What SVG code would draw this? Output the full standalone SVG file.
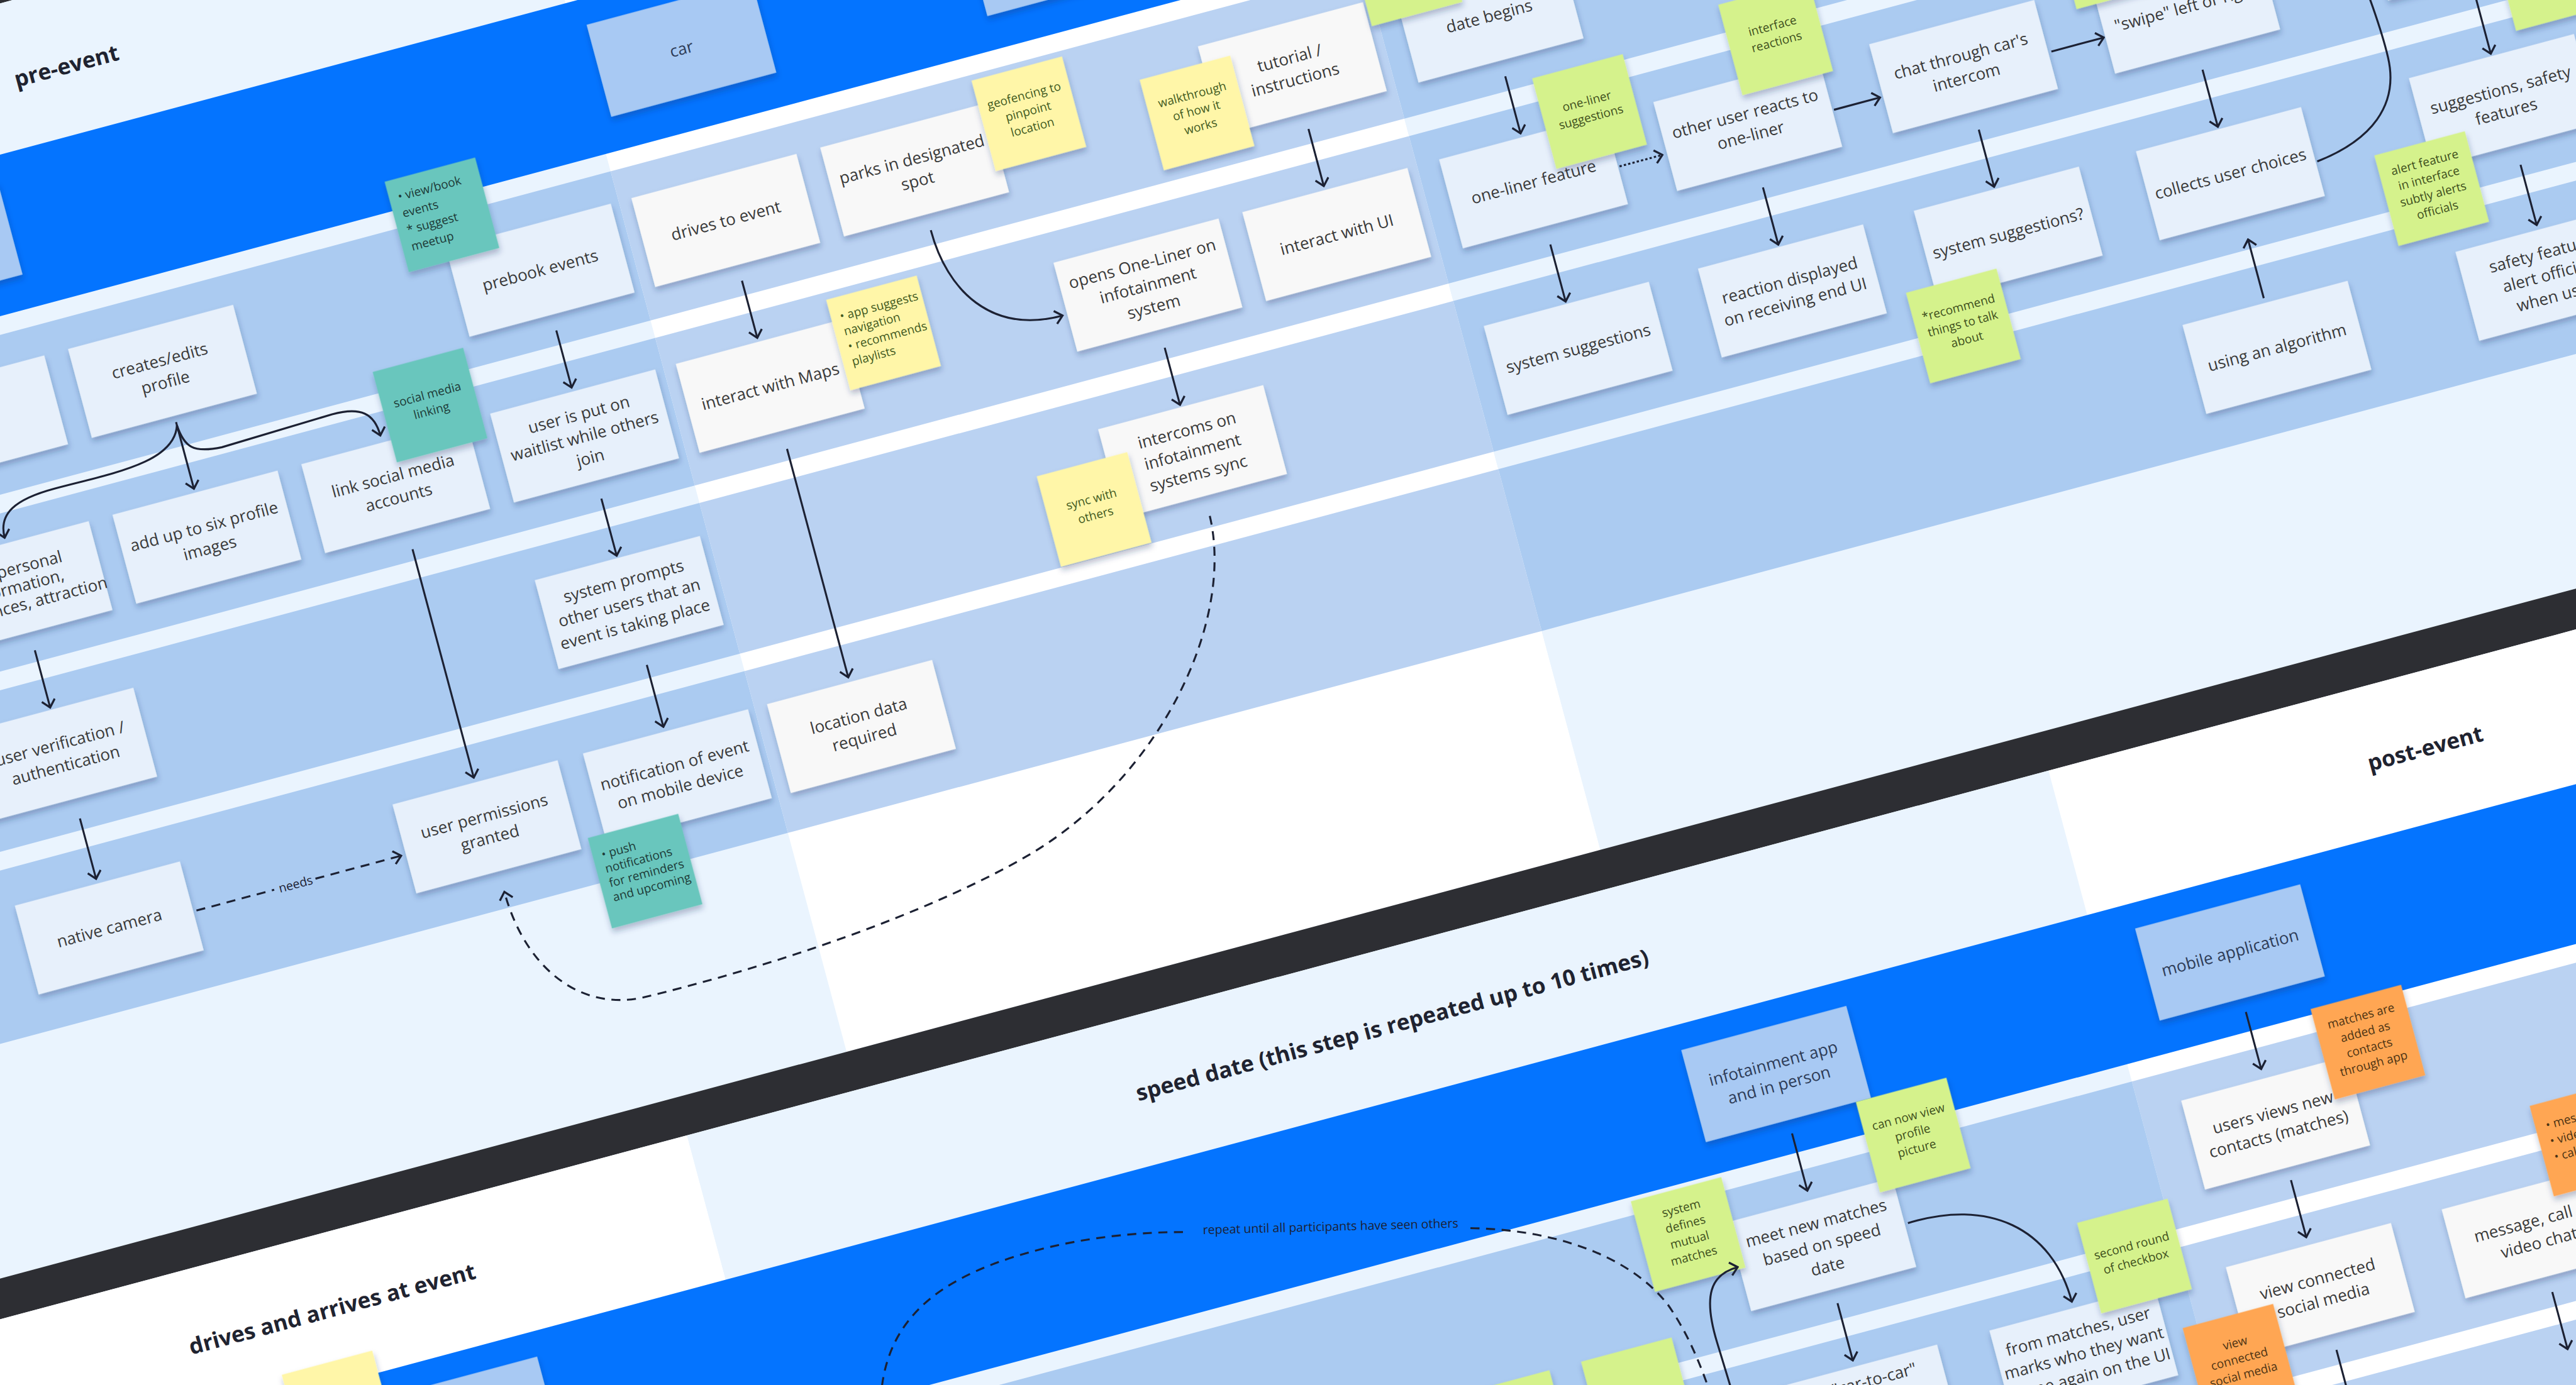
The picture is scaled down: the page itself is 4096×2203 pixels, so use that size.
<svg xmlns="http://www.w3.org/2000/svg" width="4096" height="2203" viewBox="0 0 4096 2203">
<defs>
<style>
text{font-family:"Open Sans","Liberation Sans",Arial,sans-serif}
.card rect{filter:url(#sh)}
.cw rect{fill:#f8f8f8}
.cb rect{fill:#e7f0fb}
.lb rect{fill:#a8c9f3}
.card text{font-size:10px;fill:#3a3a3a;text-anchor:middle}
.lb text{fill:#2e3c57}
.st rect{filter:url(#sh)}
.st text{font-size:7.3px;text-anchor:middle}
.st.left text{text-anchor:start}
.teal rect{fill:#69c6bd}
.teal text{fill:#1d3a37}
.yel rect{fill:#fff6a8}
.yel text{fill:#425a1e}
.grn rect{fill:#d5f28c}
.grn text{fill:#3e4f1c}
.org rect{fill:#ffa652}
.org text{fill:#4d3414}
.hdr{font-size:13.5px;font-weight:700;fill:#1f2330}
.ln{fill:none;stroke:#1c2133;stroke-width:1.2}
.dash{stroke-dasharray:5.5 4}
.dot{stroke-dasharray:1.4 1.3}
.lab{font-size:7.5px;fill:#1c2133}
</style>
<filter id="sh" x="-15%" y="-15%" width="130%" height="150%">
<feDropShadow dx="0" dy="2.4" stdDeviation="1.9" flood-color="#14305e" flood-opacity="0.3"/>
</filter>
<marker id="ah" viewBox="0 0 10 10" refX="9" refY="5" markerWidth="9" markerHeight="9" markerUnits="userSpaceOnUse" orient="auto">
<path d="M4,0.5 L9,5 L4,9.5" fill="none" stroke="#1c2133" stroke-width="1.4"/>
</marker>
</defs>
<rect width="4096" height="2203" fill="#eaf4fe"/>
<g transform="scale(2.612245) rotate(-15)">

<g id="board-top">
<rect x="-400" y="-40" width="2400" height="42" fill="#2d2e33"/>
<rect x="-400" y="2" width="732" height="750" fill="#eaf4fe"/>
<rect x="332" y="2" width="475" height="750" fill="#ffffff"/>
<rect x="807" y="2" width="1193" height="750" fill="#eaf4fe"/>
<rect x="-400" y="91" width="2400" height="95" fill="#0474ff"/>
<g fill="#abcbf1">
<rect x="-400" y="197" width="732" height="94"/>
<rect x="-400" y="302" width="732" height="93"/>
<rect x="-400" y="406" width="732" height="95"/>
<rect x="-400" y="512" width="732" height="102"/>
<rect x="807" y="197" width="1193" height="94"/>
<rect x="807" y="302" width="1193" height="93"/>
<rect x="807" y="406" width="1193" height="95"/>
<rect x="807" y="512" width="1193" height="102"/>
</g>
<g fill="#bad2f2">
<rect x="332" y="197" width="475" height="94"/>
<rect x="332" y="302" width="475" height="93"/>
<rect x="332" y="406" width="475" height="95"/>
<rect x="332" y="512" width="475" height="102"/>
</g>
<rect x="-400" y="752" width="2400" height="24" fill="#2d2e33"/>
</g>

<g id="board-bottom">
<rect x="-400" y="776" width="625" height="720" fill="#ffffff"/>
<rect x="225" y="776" width="858" height="720" fill="#eaf4fe"/>
<rect x="1083" y="776" width="917" height="720" fill="#ffffff"/>
<rect x="-400" y="867" width="2400" height="94" fill="#0474ff"/>
<g fill="#bad2f2">
<rect x="-400" y="972" width="625" height="94"/>
<rect x="-400" y="1077" width="625" height="94"/>
<rect x="-400" y="1182" width="625" height="94"/>
<rect x="-400" y="1287" width="625" height="94"/>
<rect x="1083" y="972" width="917" height="94"/>
<rect x="1083" y="1077" width="917" height="94"/>
<rect x="1083" y="1182" width="917" height="94"/>
<rect x="1083" y="1287" width="917" height="94"/>
</g>
<g fill="#abcbf1">
<rect x="225" y="972" width="858" height="94"/>
<rect x="225" y="1077" width="858" height="94"/>
<rect x="225" y="1182" width="858" height="94"/>
<rect x="225" y="1287" width="858" height="94"/>
</g>
</g>

<g id="headers">
<text class="hdr" x="-4" y="54">pre-event</text>
<text class="hdr" x="-11" y="827" text-anchor="middle">drives and arrives at event</text>
<text class="hdr" x="657" y="827" text-anchor="middle">speed date (this step is repeated up to 10 times)</text>
<text class="hdr" x="1308" y="827" text-anchor="middle">post-event</text>
</g>

<g id="n-box-a" class="card lb" transform="translate(-82,136)"><rect x="-52" y="-29" width="104" height="58"/></g>
<g id="n-car" class="card lb" transform="translate(393,136)"><rect x="-52" y="-29" width="104" height="58"/><text><tspan x="0" y="3.6">car</tspan></text></g>
<g id="n-box-b" class="card lb" transform="translate(630,136)"><rect x="-52" y="-29" width="104" height="58"/></g>
<g id="n-box-d" class="card lb" transform="translate(50,911.5)"><rect x="-52" y="-29" width="104" height="58"/></g>
<g id="n-infotain" class="card lb" transform="translate(875,911.5)"><rect x="-52" y="-29" width="104" height="58"/><text><tspan x="0" y="-3.2">infotainment app</tspan><tspan x="0" y="10.4">and in person</tspan></text></g>
<g id="n-mobile" class="card lb" transform="translate(1161,911.5)"><rect x="-52" y="-29" width="104" height="58"/><text><tspan x="0" y="3.6">mobile application</tspan></text></g>

<g id="n-a0" class="card cb" transform="translate(-82,244)"><rect x="-52" y="-28" width="104" height="56"/></g>
<g id="n-creates" class="card cb" transform="translate(37,244)"><rect x="-52" y="-28" width="104" height="56"/><text><tspan x="0" y="-3.2">creates/edits</tspan><tspan x="0" y="10.4">profile</tspan></text></g>
<g id="n-prebook" class="card cb" transform="translate(275,244)"><rect x="-52" y="-28" width="104" height="56"/><text><tspan x="0" y="3.6">prebook events</tspan></text></g>
<g id="n-personal" class="card cb" transform="translate(-82,348.5)"><rect x="-52" y="-28" width="104" height="56"/><text font-size="8.2"><tspan x="0" y="-8.3">add personal</tspan><tspan x="0" y="2.9">information,</tspan><tspan x="0" y="14.1">preferences, attraction</tspan></text></g>
<g id="n-addimg" class="card cb" transform="translate(37,348.5)"><rect x="-52" y="-28" width="104" height="56"/><text><tspan x="0" y="-3.2">add up to six profile</tspan><tspan x="0" y="10.4">images</tspan></text></g>
<g id="n-linksoc" class="card cb" transform="translate(156,348.5)"><rect x="-52" y="-28" width="104" height="56"/><text><tspan x="0" y="-3.2">link social media</tspan><tspan x="0" y="10.4">accounts</tspan></text></g>
<g id="n-waitlist" class="card cb" transform="translate(275,348.5)"><rect x="-52" y="-28" width="104" height="56"/><text><tspan x="0" y="-10">user is put on</tspan><tspan x="0" y="3.6">waitlist while others</tspan><tspan x="0" y="17.2">join</tspan></text></g>
<g id="n-verify" class="card cb" transform="translate(-82,453.5)"><rect x="-52" y="-28" width="104" height="56"/><text><tspan x="0" y="-3.2">user verification /</tspan><tspan x="0" y="10.4">authentication</tspan></text></g>
<g id="n-prompts" class="card cb" transform="translate(275,453.5)"><rect x="-52" y="-28" width="104" height="56"/><text><tspan x="0" y="-10">system prompts</tspan><tspan x="0" y="3.6">other users that an</tspan><tspan x="0" y="17.2">event is taking place</tspan></text></g>
<g id="n-camera" class="card cb" transform="translate(-82,563)"><rect x="-52" y="-28" width="104" height="56"/><text><tspan x="0" y="3.6">native camera</tspan></text></g>
<g id="n-perms" class="card cb" transform="translate(156,563)"><rect x="-52" y="-28" width="104" height="56"/><text><tspan x="0" y="-3.2">user permissions</tspan><tspan x="0" y="10.4">granted</tspan></text></g>
<g id="n-notif" class="card cb" transform="translate(276,563)"><rect x="-52" y="-28" width="104" height="56"/><text><tspan x="0" y="-3.2">notification of event</tspan><tspan x="0" y="10.4">on mobile device</tspan></text></g>

<g id="n-drives" class="card cw" transform="translate(392,244)"><rect x="-52" y="-28" width="104" height="56"/><text><tspan x="0" y="3.6">drives to event</tspan></text></g>
<g id="n-parks" class="card cw" transform="translate(511,244)"><rect x="-52" y="-28" width="104" height="56"/><text><tspan x="0" y="-3.2">parks in designated</tspan><tspan x="0" y="10.4">spot</tspan></text></g>
<g id="n-tutorial" class="card cw" transform="translate(749,244)"><rect x="-52" y="-28" width="104" height="56"/><text><tspan x="0" y="-3.2">tutorial /</tspan><tspan x="0" y="10.4">instructions</tspan></text></g>
<g id="n-maps" class="card cw" transform="translate(392,348.5)"><rect x="-52" y="-28" width="104" height="56"/><text><tspan x="0" y="3.6">interact with Maps</tspan></text></g>
<g id="n-opens" class="card cw" transform="translate(630,348.5)"><rect x="-52" y="-28" width="104" height="56"/><text><tspan x="0" y="-10">opens One-Liner on</tspan><tspan x="0" y="3.6">infotainment</tspan><tspan x="0" y="17.2">system</tspan></text></g>
<g id="n-ui" class="card cw" transform="translate(749,348.5)"><rect x="-52" y="-28" width="104" height="56"/><text><tspan x="0" y="3.6">interact with UI</tspan></text></g>
<g id="n-intercoms" class="card cw" transform="translate(630,453.5)"><rect x="-52" y="-28" width="104" height="56"/><text><tspan x="0" y="-10">intercoms on</tspan><tspan x="0" y="3.6">infotainment</tspan><tspan x="0" y="17.2">systems sync</tspan></text></g>
<g id="n-location" class="card cw" transform="translate(392,563)"><rect x="-52" y="-28" width="104" height="56"/><text><tspan x="0" y="-3.2">location data</tspan><tspan x="0" y="10.4">required</tspan></text></g>

<g id="n-date" class="card cb" transform="translate(873,244)"><rect x="-52" y="-28" width="104" height="56"/><text><tspan x="0" y="3.6">date begins</tspan></text></g>
<g id="n-oneliner" class="card cb" transform="translate(873,348.5)"><rect x="-52" y="-28" width="104" height="56"/><text><tspan x="0" y="3.6">one-liner feature</tspan></text></g>
<g id="n-reacts" class="card cb" transform="translate(1008,348.5)"><rect x="-52" y="-28" width="104" height="56"/><text><tspan x="0" y="-3.2">other user reacts to</tspan><tspan x="0" y="10.4">one-liner</tspan></text></g>
<g id="n-chat" class="card cb" transform="translate(1144,348.5)"><rect x="-52" y="-28" width="104" height="56"/><text><tspan x="0" y="-3.2">chat through car's</tspan><tspan x="0" y="10.4">intercom</tspan></text></g>
<g id="n-swipe" class="card cb" transform="translate(1284,348.5)"><rect x="-52" y="-28" width="104" height="56"/><text><tspan x="0" y="3.6">&quot;swipe&quot; left or right</tspan></text></g>
<g id="n-ctop" class="card cb" transform="translate(1456,348.5)"><rect x="-52" y="-28" width="104" height="56"/></g>
<g id="n-syssug" class="card cb" transform="translate(873,453.5)"><rect x="-52" y="-28" width="104" height="56"/><text><tspan x="0" y="3.6">system suggestions</tspan></text></g>
<g id="n-reaction" class="card cb" transform="translate(1008,453.5)"><rect x="-52" y="-28" width="104" height="56"/><text><tspan x="0" y="-3.2">reaction displayed</tspan><tspan x="0" y="10.4">on receiving end UI</tspan></text></g>
<g id="n-syssugq" class="card cb" transform="translate(1144,453.5)"><rect x="-52" y="-28" width="104" height="56"/><text><tspan x="0" y="3.6">system suggestions?</tspan></text></g>
<g id="n-collects" class="card cb" transform="translate(1284,453.5)"><rect x="-52" y="-28" width="104" height="56"/><text><tspan x="0" y="3.6">collects user choices</tspan></text></g>
<g id="n-safetysug" class="card cb" transform="translate(1456,453.5)"><rect x="-52" y="-28" width="104" height="56"/><text><tspan x="0" y="-3.2">suggestions, safety</tspan><tspan x="0" y="10.4">features</tspan></text></g>
<g id="n-algo" class="card cb" transform="translate(1284,563)"><rect x="-52" y="-28" width="104" height="56"/><text><tspan x="0" y="3.6">using an algorithm</tspan></text></g>
<g id="n-safety" class="card cb" transform="translate(1456,563)"><rect x="-52" y="-28" width="104" height="56"/><text><tspan x="0" y="-10">safety features</tspan><tspan x="0" y="3.6">alert officials</tspan><tspan x="0" y="17.2">when user</tspan></text></g>

<g id="n-meet" class="card cb" transform="translate(875,1019)"><rect x="-52" y="-28" width="104" height="56"/><text><tspan x="0" y="-10">meet new matches</tspan><tspan x="0" y="3.6">based on speed</tspan><tspan x="0" y="17.2">date</tspan></text></g>
<g id="n-users" class="card cw" transform="translate(1161,1019)"><rect x="-52" y="-28" width="104" height="56"/><text><tspan x="0" y="-3.2">users views new</tspan><tspan x="0" y="10.4">contacts (matches)</tspan></text></g>
<g id="n-cartocar" class="card cb" transform="translate(875,1124)"><rect x="-52" y="-28" width="104" height="56"/><text><tspan x="36" y="-14" text-anchor="end">&quot;car-to-car&quot;</tspan></text></g>
<g id="n-frommatch" class="card cb" transform="translate(1012,1124)"><rect x="-52" y="-28" width="104" height="56"/><text><tspan x="0" y="-10">from matches, user</tspan><tspan x="0" y="3.6">marks who they want</tspan><tspan x="0" y="17.2">to see again on the UI</tspan></text></g>
<g id="n-viewsoc" class="card cw" transform="translate(1161,1124)"><rect x="-52" y="-28" width="104" height="56"/><text><tspan x="0" y="-3.2">view connected</tspan><tspan x="0" y="10.4">social media</tspan></text></g>
<g id="n-message" class="card cw" transform="translate(1297,1124)"><rect x="-52" y="-28" width="104" height="56"/><text><tspan x="0" y="-3.2">message, call or</tspan><tspan x="0" y="10.4">video chat</tspan></text></g>

<g id="s-viewbook" class="st teal left" transform="translate(226,196)"><rect x="-28.5" y="-28.5" width="57" height="57"/><text font-size="7.4"><tspan x="-23" y="-15">• view/book</tspan><tspan x="-23" y="-4.5">events</tspan><tspan x="-23" y="6">* suggest</tspan><tspan x="-23" y="16.5">meetup</tspan></text></g>
<g id="s-social" class="st teal" transform="translate(189,306)"><rect x="-28.5" y="-28.5" width="57" height="57"/><text><tspan x="0" y="-4">social media</tspan><tspan x="0" y="6">linking</tspan></text></g>
<g id="s-push" class="st teal left" transform="translate(242,614)"><rect x="-28.5" y="-28.5" width="57" height="57"/><text font-size="6.5"><tspan x="-23" y="-14">• push</tspan><tspan x="-23" y="-5">notifications</tspan><tspan x="-23" y="4">for reminders</tspan><tspan x="-23" y="13">and upcoming</tspan></text></g>
<g id="s-geo" class="st yel" transform="translate(587,229)"><rect x="-28.5" y="-28.5" width="57" height="57"/><text><tspan x="0" y="-9">geofencing to</tspan><tspan x="0" y="1">pinpoint</tspan><tspan x="0" y="11">location</tspan></text></g>
<g id="s-walk" class="st yel" transform="translate(686,255)"><rect x="-28.5" y="-28.5" width="57" height="57"/><text><tspan x="0" y="-9">walkthrough</tspan><tspan x="0" y="1">of how it</tspan><tspan x="0" y="11">works</tspan></text></g>
<g id="s-app" class="st yel left" transform="translate(467,335)"><rect x="-28.5" y="-28.5" width="57" height="57"/><text font-size="6.6"><tspan x="-23" y="-14">• app suggests</tspan><tspan x="-23" y="-4.5">navigation</tspan><tspan x="-23" y="5">• recommends</tspan><tspan x="-23" y="14.5">playlists</tspan></text></g>
<g id="s-sync" class="st yel" transform="translate(563,472)"><rect x="-28.5" y="-28.5" width="57" height="57"/><text><tspan x="0" y="-4">sync with</tspan><tspan x="0" y="6">others</tspan></text></g>
<g id="s-yel-bottom" class="st yel" transform="translate(-22.5,881.5)"><rect x="-28.5" y="-28.5" width="57" height="57"/></g>
<g id="s-g-top1" class="st grn" transform="translate(831,203)"><rect x="-28.5" y="-28.5" width="57" height="57"/></g>
<g id="s-oneliner" class="st grn" transform="translate(917,316)"><rect x="-28.5" y="-28.5" width="57" height="57"/><text><tspan x="0" y="-4">one-liner</tspan><tspan x="0" y="6">suggestions</tspan></text></g>
<g id="s-iface" class="st grn" transform="translate(1038,302)"><rect x="-28.5" y="-28.5" width="57" height="57"/><text><tspan x="0" y="-5">interface</tspan><tspan x="0" y="5">reactions</tspan></text></g>
<g id="s-g-top2" class="st grn" transform="translate(1248,304)"><rect x="-28.5" y="-28.5" width="57" height="57"/></g>
<g id="s-recommend" class="st grn" transform="translate(1103,501)"><rect x="-28.5" y="-28.5" width="57" height="57"/><text><tspan x="0" y="-9">*recommend</tspan><tspan x="0" y="1">things to talk</tspan><tspan x="0" y="11">about</tspan></text></g>
<g id="s-alert" class="st grn" transform="translate(1400,494)"><rect x="-28.5" y="-28.5" width="57" height="57"/><text><tspan x="0" y="-14">alert feature</tspan><tspan x="0" y="-4">in interface</tspan><tspan x="0" y="6">subtly alerts</tspan><tspan x="0" y="16">officials</tspan></text></g>
<g id="s-g-top3" class="st grn" transform="translate(1503,386)"><rect x="-28.5" y="-28.5" width="57" height="57"/></g>
<g id="s-mutual" class="st grn" transform="translate(798,992)"><rect x="-28.5" y="-28.5" width="57" height="57"/><text><tspan x="0" y="-14">system</tspan><tspan x="0" y="-4">defines</tspan><tspan x="0" y="6">mutual</tspan><tspan x="0" y="16">matches</tspan></text></g>
<g id="s-canview" class="st grn" transform="translate(946,969)"><rect x="-28.5" y="-28.5" width="57" height="57"/><text><tspan x="0" y="-9">can now view</tspan><tspan x="0" y="1">profile</tspan><tspan x="0" y="11">picture</tspan></text></g>
<g id="s-second" class="st grn" transform="translate(1057,1075)"><rect x="-28.5" y="-28.5" width="57" height="57"/><text><tspan x="0" y="-4">second round</tspan><tspan x="0" y="6">of checkbox</tspan></text></g>
<g id="s-g-b1" class="st grn" transform="translate(666.5,1078.5)"><rect x="-28.5" y="-28.5" width="57" height="57"/></g>
<g id="s-g-b2" class="st grn" transform="translate(743.5,1078.5)"><rect x="-28.5" y="-28.5" width="57" height="57"/></g>
<g id="s-added" class="st org" transform="translate(1228,986)"><rect x="-28.5" y="-28.5" width="57" height="57"/><text><tspan x="0" y="-14">matches are</tspan><tspan x="0" y="-4">added as</tspan><tspan x="0" y="6">contacts</tspan><tspan x="0" y="16">through app</tspan></text></g>
<g id="s-viewconn" class="st org" transform="translate(1102.5,1153.5)"><rect x="-28.5" y="-28.5" width="57" height="57"/><text><tspan x="0" y="-9">view</tspan><tspan x="0" y="1">connected</tspan><tspan x="0" y="11">social media</tspan></text></g>
<g id="s-msg" class="st org left" transform="translate(1341.5,1077.5)"><rect x="-28.5" y="-28.5" width="57" height="57"/><text><tspan x="-22" y="-12">• message</tspan><tspan x="-22" y="-2">• video</tspan><tspan x="-22" y="8">• call</tspan></text></g>

<g id="connectors">
<g class="ln" marker-end="url(#ah)">
<path d="M275,282 V318"/>
<path d="M275,388 V424"/>
<path d="M275.5,493 V532"/>
<path d="M156,388 V532"/>
<path d="M-82,388 V424"/>
<path d="M-82,494 V532"/>
<path d="M392,282 V318"/>
<path d="M392,388 V532"/>
<path d="M630,388 V424"/>
<path d="M749,282 V318"/>
<path d="M873,282 V318"/>
<path d="M873,388 V424"/>
<path d="M1007,388 V424"/>
<path d="M1143,388 V424"/>
<path d="M1284,388 V424"/>
<path d="M1284,532 V495"/>
<path d="M1456,388 V424"/>
<path d="M1456,494 V532"/>
<path d="M1061,353.5 H1090"/>
<path d="M1198,353.5 H1231"/>
<path class="dot" d="M926,353 H953"/>
<path d="M37,276 V318"/>
<path d="M37,278 C 30,300 -10,296 -45,296 C -70,296 -82,302 -82,317"/>
<path d="M37,278 C 38,292 42,297 60,298 L 130,296 C 148,296 155,302 155,316"/>
<path d="M511,282 C 511,320 530,353 575,353"/>
<path class="dash" d="M47,566.5 H101"/>
<path class="dash" d="M630,494 C 628,560 560,640 470,665 C 400,684 300,690 221,688 C 180,686 156,650 156,604"/>
<path d="M875,949 V985"/>
<path d="M875,1056 V1092"/>
<path d="M1161,949 V985"/>
<path d="M1161,1055 V1091"/>
<path d="M1161,1162 V1200"/>
<path d="M1297,1162 V1198"/>
<path d="M801,1150 L798,1060 C 797,1030 805,1019 822,1019"/>
<path d="M929,1020 C 980,1018 1013,1045 1013,1092"/>
</g>
<path class="ln dash" d="M-28,566.5 H21"/>
<path class="ln" d="M1337,460 C 1372,456 1394,440 1395,410 C 1396,380 1389,335 1386,290"/>
<path class="ln dash" d="M290,1010 C 292,930 330,902 398,899 C 440,897 480,905 505,912"/>
<path class="ln dash" d="M671,954 C 720,968 760,995 775,1030 C 784,1055 786,1080 787,1110"/>
<text class="lab" x="34.5" y="569.2" text-anchor="middle">needs</text>
<text class="lab" font-size="7.4" transform="translate(589,931) rotate(13.5)" y="2.6" text-anchor="middle">repeat until all participants have seen others</text>
</g>

</g>
</svg>
